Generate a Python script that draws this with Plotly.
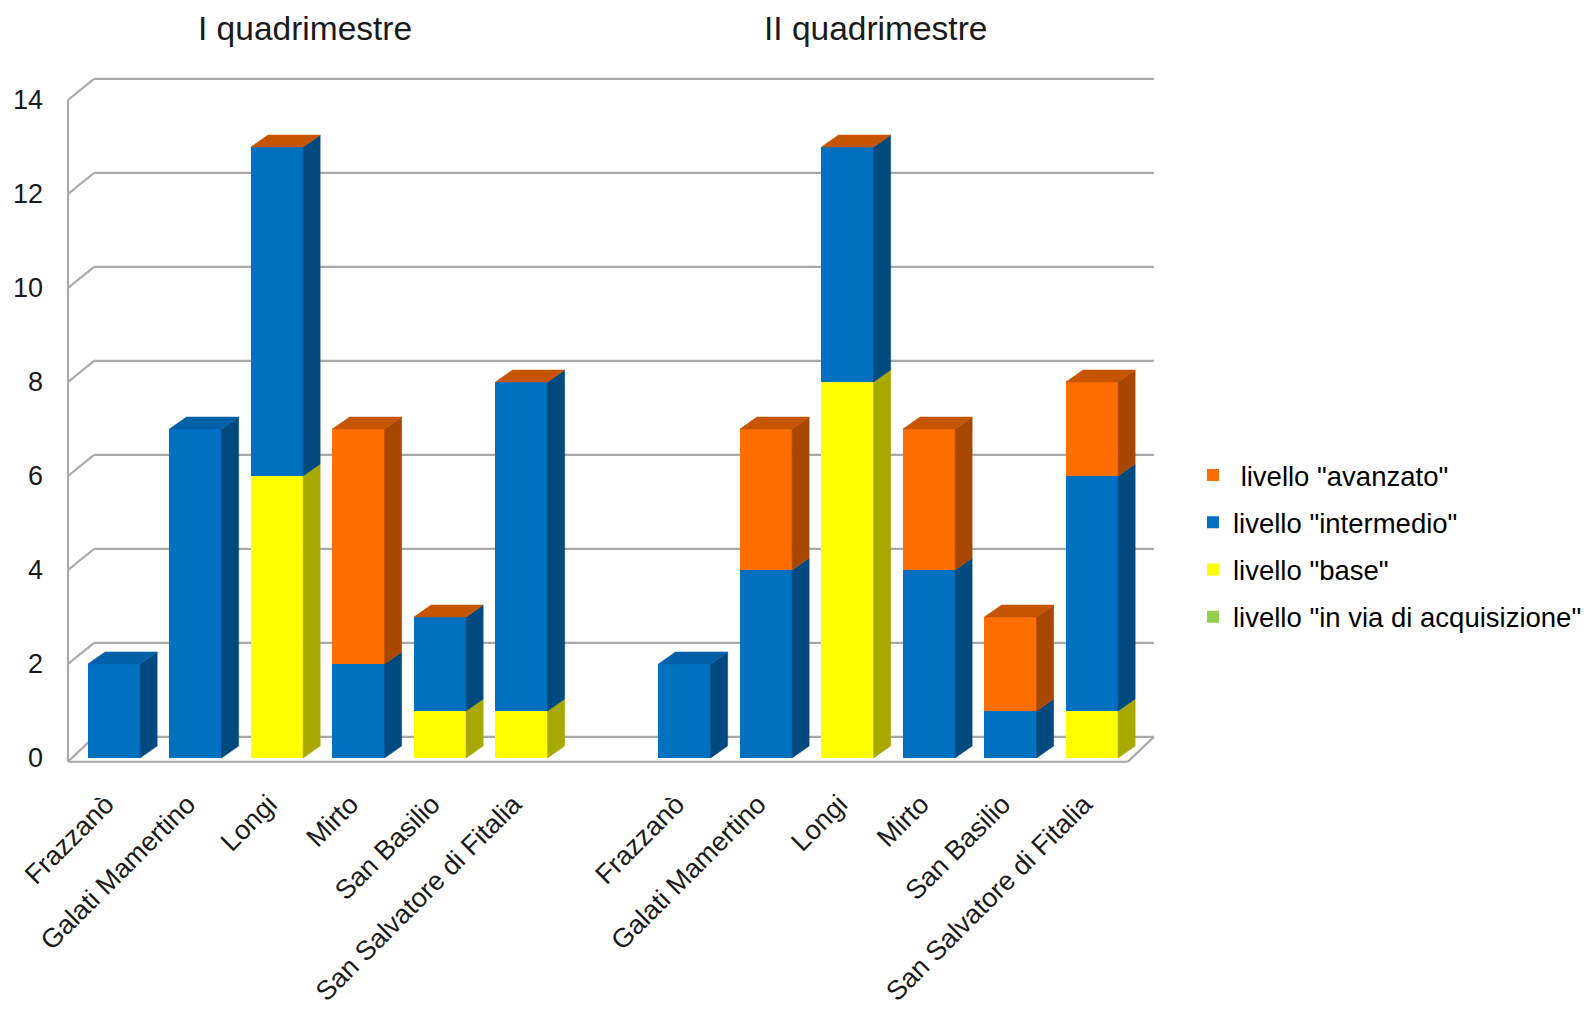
import plotly.graph_objects as go

comuni = ["Frazzanò", "Galati Mamertino", "Longi", "Mirto", "San Basilio", "San Salvatore di Fitalia"]
periodi = ["I quadrimestre", "II quadrimestre"]

# values per period, in order of comuni (None = no value entered)
in_via_I = [0, 0, 0, 0, 0, 0]
base_I = [0, 0, 6, 0, 1, 1]
intermedio_I = [2, 7, 7, 2, 2, 7]
avanzato_I = [None, None, 0, 5, 0, 0]

in_via_II = [0, 0, 0, 0, 0, 0]
base_II = [0, 0, 8, 0, 0, 1]
intermedio_II = [2, 4, 5, 4, 1, 5]
avanzato_II = [None, 3, 0, 3, 2, 2]

y_ticks = [0, 2, 4, 6, 8, 10, 12, 14]

# ---- styling / geometry (not data) ----
FONT = "Liberation Sans, Arial, sans-serif"
GRID = "#a9a9a9"
BAR_W = 0.64          # bar width in slot units
BAR_DX, BAR_DY = 0.21, 0.255    # bar depth (x units, y units)
WALL_DX, WALL_DY = 0.32, 0.45   # wall depth
X_FRONT = -0.564      # front-left corner of the chart box
FLOOR_V = -0.08

OFF = 8                # page body margin
W, H = 1593 - OFF, 1011 - OFF

n = len(comuni)
x_pos = list(range(n)) + [n + 1 + i for i in range(n)]
labels = comuni + comuni
X_FRONT_RIGHT = x_pos[-1] + 0.44
X_BACK_RIGHT = X_FRONT_RIGHT + WALL_DX

series = [
    ('livello "in via di acquisizione"', in_via_I + in_via_II, "#92D050", "#6E9C3C", "#7FB545"),
    ('livello "base"', base_I + base_II, "#FFFF00", "#A8A800", "#D4D400"),
    ('livello "intermedio"', intermedio_I + intermedio_II, "#0070C0", "#004A80", "#0060A8"),
    ('\u00a0livello "avanzato"', avanzato_I + avanzato_II, "#FF6E00", "#A84800", "#C55500"),
]

fig = go.Figure()

# front faces (the real stacked bars)
for k, (name, vals, col, side, top) in enumerate(series):
    fig.add_trace(go.Bar(
        x=x_pos, y=vals, name=name, width=BAR_W,
        marker=dict(color=col, line=dict(width=0)),
        legendgroup=str(k), legendrank=1000 - k,
        hoverinfo="x+y+name",
    ))

# 3D side and top faces derived from the stacked values
for i, xc in enumerate(x_pos):
    base_v = 0.0
    top_col = None
    xr = xc + BAR_W / 2
    xl = xc - BAR_W / 2
    for name, vals, col, side, top in series:
        v = vals[i]
        if v is None:
            continue
        top_col = top
        if v > 0:
            t = base_v + v
            fig.add_trace(go.Scatter(
                x=[xr, xr + BAR_DX, xr + BAR_DX, xr, xr],
                y=[base_v, base_v + BAR_DY, t + BAR_DY, t, base_v],
                fill="toself", fillcolor=side, mode="lines",
                line=dict(width=0.5, color=side),
                showlegend=False, hoverinfo="skip",
            ))
            base_v = t
    if top_col is not None and base_v > 0:
        fig.add_trace(go.Scatter(
            x=[xl, xl + BAR_DX, xr + BAR_DX, xr, xl],
            y=[base_v, base_v + BAR_DY, base_v + BAR_DY, base_v, base_v],
            fill="toself", fillcolor=top_col, mode="lines",
            line=dict(width=0.5, color=top_col),
            showlegend=False, hoverinfo="skip",
        ))

# back wall grid lines + diagonals, floor and front axis, as shapes below traces
shapes = []
def seg(x0, y0, x1, y1):
    shapes.append(dict(type="line", xref="x", yref="y", x0=x0, y0=y0, x1=x1, y1=y1,
                       line=dict(color=GRID, width=2.2), layer="below"))

for v in y_ticks:
    if v == 0:
        seg(X_FRONT, FLOOR_V, X_FRONT + WALL_DX, v + WALL_DY)
    else:
        seg(X_FRONT, v, X_FRONT + WALL_DX, v + WALL_DY)
    seg(X_FRONT + WALL_DX, v + WALL_DY, X_BACK_RIGHT, v + WALL_DY)
seg(X_FRONT, FLOOR_V, X_FRONT, y_ticks[-1])
seg(X_FRONT, FLOOR_V, X_FRONT_RIGHT, FLOOR_V)
seg(X_FRONT_RIGHT, FLOOR_V, X_BACK_RIGHT, WALL_DY)

# page-pixel targets converted to figure pixels
L, R_PIX, T, B_PIX = 66 - OFF, 1159 - OFF, 74 - OFF, 764 - OFF
Y0_PIX = 758 - OFF
px_per_x = 81.5
px_per_y = 47.0
x_lo = X_FRONT - 2 / px_per_x
x_hi = x_lo + (R_PIX - L) / px_per_x
y_lo = -(B_PIX - Y0_PIX) / px_per_y
y_hi = (Y0_PIX - T) / px_per_y

fig.update_layout(
    barmode="stack",
    width=W, height=H,
    paper_bgcolor="white", plot_bgcolor="white",
    margin=dict(l=L, r=W - R_PIX, t=T, b=H - B_PIX, autoexpand=False),
    font=dict(family=FONT, size=27, color="#000000"),
    legend=dict(
        traceorder="grouped",
        x=(1193 - OFF - L) / (R_PIX - L), xanchor="left",
        y=(B_PIX - (546 - OFF)) / (B_PIX - T), yanchor="middle",
        font=dict(size=27.5), tracegroupgap=8.5,
        bgcolor="rgba(0,0,0,0)", borderwidth=0,
    ),
    showlegend=True,
    shapes=shapes,
)

fig.update_xaxes(
    range=[x_lo, x_hi], automargin=False,
    tickmode="array", tickvals=x_pos, ticktext=labels,
    tickangle=-45, tickfont=dict(size=27, color="#1a1a1a"),
    showgrid=False, zeroline=False, showline=False,
    ticks="", ticklabelstandoff=18, ticklabelshift=-8,
)
fig.update_yaxes(
    range=[y_lo, y_hi], automargin=False,
    tickmode="array", tickvals=y_ticks,
    tickfont=dict(size=27, color="#1a1a1a"),
    showgrid=False, zeroline=False, showline=False,
    ticks="", ticklabelstandoff=22,
)

group_centers = [(n - 1) / 2, n + 1 + (n - 1) / 2]
for per, cx in zip(periodi, group_centers):
    fig.add_annotation(
        text=per, x=cx - 0.16, xref="x",
        y=(B_PIX - (28.5 - OFF)) / (B_PIX - T), yref="paper", yanchor="middle",
        showarrow=False, font=dict(size=33.5, color="#1a1a1a"),
    )

fig.write_html("out.html")
